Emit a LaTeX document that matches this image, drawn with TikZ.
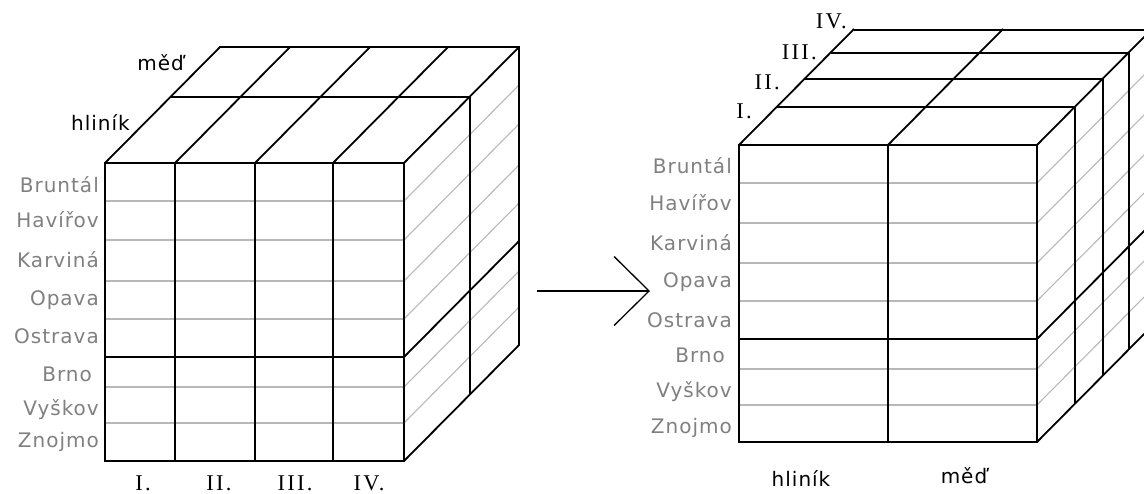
\documentclass[tikz,border=0pt]{standalone}
\usepackage{fontspec}
\setmainfont{Liberation Serif}
\newfontfamily\labelfont[LetterSpace=5]{DejaVu Sans}
\newfontfamily\numfont[LetterSpace=10]{Liberation Serif}
\usetikzlibrary{arrows.meta}
\definecolor{rulegray}{HTML}{B8B8B8}
\definecolor{textgray}{HTML}{808080}
\begin{document}
\begin{tikzpicture}[x=1pt,y=-1pt,
  edge/.style={line width=1.8pt, line join=miter},
  rule/.style={draw=rulegray, line width=1.1pt},
  city/.style={font=\labelfont\fontsize{20}{20}\selectfont, text=textgray, anchor=base east, inner sep=0pt},
  metal/.style={font=\labelfont\fontsize{20}{20}\selectfont, inner sep=0pt},
  numeral/.style={font=\numfont\fontsize{22.5}{22.5}\selectfont, inner sep=0pt}]
\useasboundingbox (0,0) rectangle (1144,493);
\clip (0,0) rectangle (1144,493);

% ---------- cube with months along the columns ----------
\foreach \y in {201,240,281,319,387,423} {
  \draw[rule] (105,\y) -- (404,\y);
  \draw[rule] (404,\y) -- ++(115,-116);
}
\draw[edge] (105,163) rectangle (404,461);
\foreach \x in {175,255,333}
  \draw[edge] (\x,461) -- (\x,163) -- ++(115,-116);
\draw[edge] (105,357) -- (404,357) -- ++(115,-116);
\draw[edge] (105,163) -- ++(115,-116) -- (519,47) -- (519,345) -- (404,461);
\draw[edge] (404,163) -- (519,47);
\draw[edge] (171,97) -- (470,97) -- (470,395);

\foreach \t/\b [count=\i] in {Bruntál/192, Havířov/227, Karviná/267, Opava/305,
    Ostrava/343, Brno\kern7pt/381, Vyškov/415, Znojmo/447}
  \node[city] (lrow\i) at (99,\b) {\t};
\foreach \t/\x [count=\i] in {I./143, II./219, III./295, IV./369}
  \node[numeral, anchor=base] (lcol\i) at (\x,490) {\t};
\node[metal, anchor=base east] (lcu) at (184,70) {měď};
\node[metal, anchor=base east] (lal) at (130,130) {hliník};

% ---------- arrow ----------
\coordinate (arrfrom) at (537,291);
\coordinate (arrto) at (650,291);
\draw[line width=1.3pt, -{Straight Barb[length=35pt,width=69pt,line width=1.3pt]}] (arrfrom) -- (arrto);

% ---------- cube with metals along the columns ----------
\foreach \y in {183,223,263,301,369,405} {
  \draw[rule] (739,\y) -- (1037,\y);
  \draw[rule] (1037,\y) -- ++(115,-116);
}
\draw[edge] (739,145) rectangle (1037,442);
\draw[edge] (888,442) -- (888,145) -- ++(115,-116);
\draw[edge] (739,339) -- (1037,339) -- ++(115,-116);
\draw[edge] (739,145) -- ++(115,-116);
\draw[edge] (1037,145) -- ++(115,-116);
\draw[edge] (1037,442) -- ++(115,-116);
\foreach \o in {38,66,92,115}
  \draw[edge] (739+\o,145-\o) -- (1037+\o,145-\o) -- (1037+\o,442-\o);

\foreach \t/\b [count=\i] in {Bruntál/173, Havířov/210, Karviná/250, Opava/287,
    Ostrava/327, Brno\kern7pt/362, Vyškov/397, Znojmo/433}
  \node[city] (rrow\i) at (732,\b) {\t};
\foreach \t/\x/\b [count=\i] in {I./752/118, II./780/89, III./817/59, IV./847/28}
  \node[numeral, anchor=base east] (rlay\i) at (\x,\b) {\t};
\node[metal, anchor=base] (ral) at (801,486) {hliník};
\node[metal, anchor=base] (rcu) at (964,483) {měď};
\end{tikzpicture}
\end{document}
